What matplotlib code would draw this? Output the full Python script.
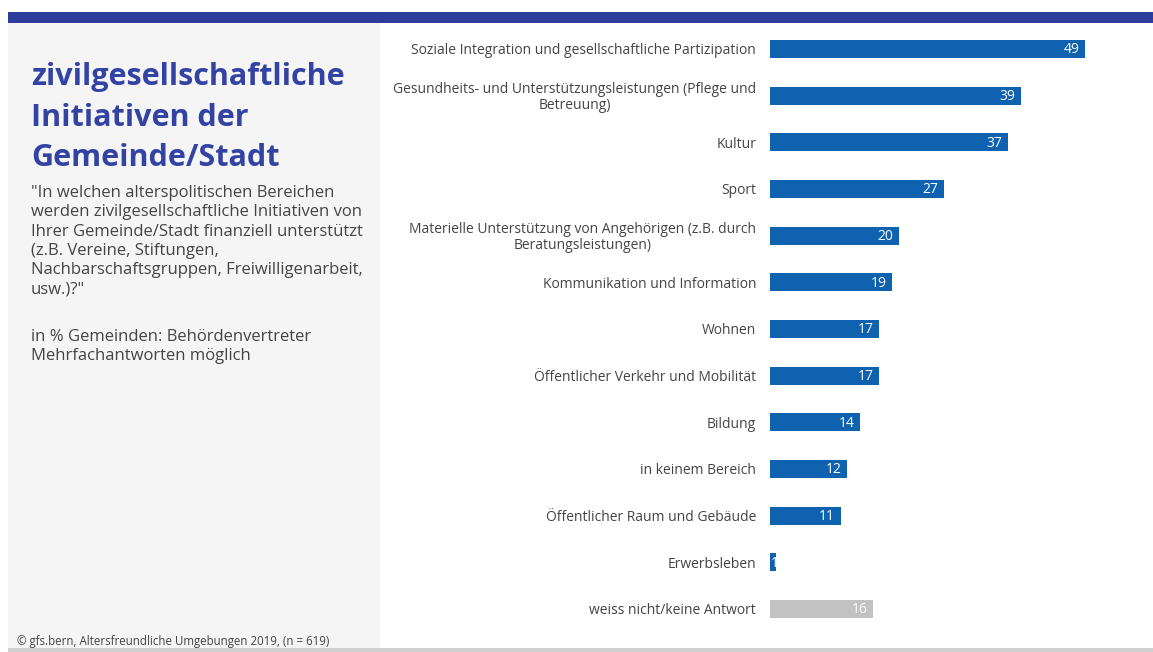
import matplotlib
matplotlib.use("Agg")
import matplotlib.pyplot as plt
from matplotlib.patches import Rectangle

plt.rcParams["font.family"] = ["Open Sans", "DejaVu Sans"]

categories = [
    "Soziale Integration und gesellschaftliche Partizipation",
    "Gesundheits- und Unterstützungsleistungen (Pflege und\nBetreuung)",
    "Kultur",
    "Sport",
    "Materielle Unterstützung von Angehörigen (z.B. durch\nBeratungsleistungen)",
    "Kommunikation und Information",
    "Wohnen",
    "Öffentlicher Verkehr und Mobilität",
    "Bildung",
    "in keinem Bereich",
    "Öffentlicher Raum und Gebäude",
    "Erwerbsleben",
    "weiss nicht/keine Antwort",
]
values = [49, 39, 37, 27, 20, 19, 17, 17, 14, 12, 11, 1, 16]
is_no_answer = [False] * 12 + [True]

title = "zivilgesellschaftliche\nInitiativen der\nGemeinde/Stadt"
question = ('"In welchen alterspolitischen Bereichen\n'
            'werden zivilgesellschaftliche Initiativen von\n'
            'Ihrer Gemeinde/Stadt finanziell unterstützt\n'
            '(z.B. Vereine, Stiftungen,\n'
            'Nachbarschaftsgruppen, Freiwilligenarbeit,\n'
            'usw.)?"')
basis = ('in % Gemeinden: Behördenvertreter\n'
         'Mehrfachantworten möglich')
footer = "© gfs.bern, Altersfreundliche Umgebungen 2019, (n = 619)"

BLUE = "#0F62AF"
GREY = "#C2C2C2"
BAND = "#2E3D9C"
TITLE_C = "#3343A3"
TEXT_C = "#444444"

W, H = 1153, 652
fig = plt.figure(figsize=(W / 100, H / 100), dpi=100)
fig.patch.set_facecolor("white")


def fx(px):
    return px / W


def fy(py):
    return 1 - py / H


# background panels and rules
fig.add_artist(Rectangle((fx(8), fy(23)), fx(1153 - 8), 11 / H,
                         transform=fig.transFigure, color=BAND, lw=0))
fig.add_artist(Rectangle((fx(8), fy(648)), fx(380 - 8), (648 - 23) / H,
                         transform=fig.transFigure, color="#F5F5F5", lw=0))
fig.add_artist(Rectangle((fx(8), fy(652)), fx(1153 - 8), 4 / H,
                         transform=fig.transFigure, color="#D0D0D0", lw=0))

# left column texts
fig.text(fx(31), fy(62), title, fontsize=22, fontweight="bold", color=TITLE_C,
         va="top", ha="left", linespacing=1.46)
fig.text(fx(31), fy(185), question, fontsize=12, color=TEXT_C,
         va="top", ha="left", linespacing=1.28)
fig.text(fx(31), fy(329), basis, fontsize=12, color=TEXT_C,
         va="top", ha="left", linespacing=1.28)
fig.text(fx(17), fy(641), footer, fontsize=8.3, color=TEXT_C,
         va="center", ha="left")

# bar chart
px_per_unit = 6.43
ax_left, ax_right = 770, 1140
spacing = 46.67
top_c, n = 49, len(values)
ax_top = top_c - spacing / 2
ax_bot = top_c + spacing * (n - 1) + spacing / 2
ax = fig.add_axes([fx(ax_left), fy(ax_bot), fx(ax_right - ax_left),
                   (ax_bot - ax_top) / H])
ax.set_xlim(0, (ax_right - ax_left) / px_per_unit)
ax.set_ylim(n - 0.5, -0.5)
ax.axis("off")

pos = list(range(n))
colors = [GREY if g else BLUE for g in is_no_answer]
ax.barh(pos, values, height=0.39, color=colors, linewidth=0)

for i, (cat, v) in enumerate(zip(categories, values)):
    ax.annotate(cat, xy=(0, i), xytext=(-10, -1.2), textcoords="offset points",
                ha="right", va="center", multialignment="center",
                fontsize=10, color=TEXT_C, linespacing=1.12,
                annotation_clip=False)
    if v * px_per_unit < 15:
        # too short for an inside-right label: start it at the bar origin
        ax.annotate(str(v), xy=(0, i), xytext=(0.8, -0.5), textcoords="offset points",
                    ha="left", va="center", fontsize=10, color="white")
    else:
        ax.annotate(str(v), xy=(v, i), xytext=(-4, -0.5), textcoords="offset points",
                    ha="right", va="center", fontsize=10, color="white")

fig.savefig("out.png", dpi=100)
